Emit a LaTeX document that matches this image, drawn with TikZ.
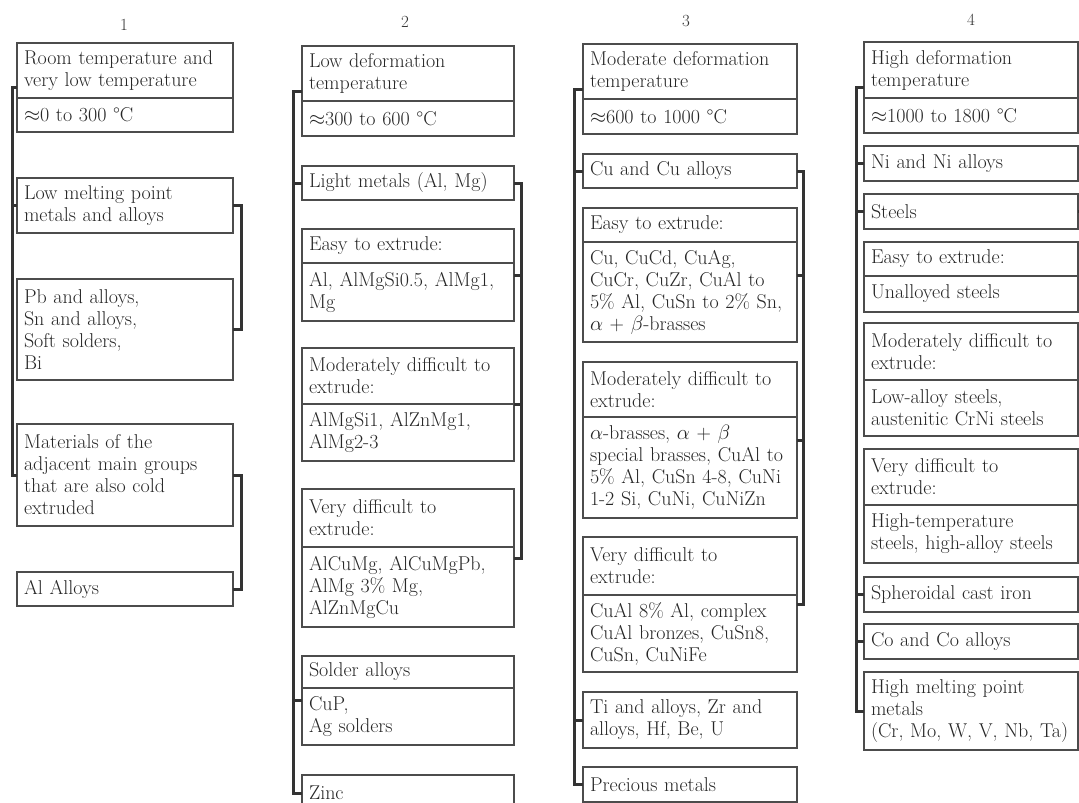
\documentclass[tikz,border=0pt]{standalone}
\usepackage{fontspec}
\usetikzlibrary{calc}
\tikzset{
  box/.style={draw=black!70, line width=1.3pt, anchor=north west, inner xsep=7pt, inner ysep=0pt,
    outer sep=0pt, align=left, font=\fontsize{20}{22}\selectfont\addfontfeature{FakeBold=1.5}, text=black!85},
  wa/.style={minimum width=216pt, text width=202pt},
  wb/.style={minimum width=212pt, text width=198pt},
  wc/.style={minimum width=214pt, text width=200pt},
  wd/.style={minimum width=214pt, text width=200pt},
  brk/.style={draw=black!80, line width=3pt, line join=miter},
  num/.style={font=\fontsize{17}{20}\selectfont, text=black!80}
}
\begin{document}
\begin{tikzpicture}[x=1pt,y=-1pt]
\clip (0,0) rectangle (1079,803);
\fill[white] (0,0) rectangle (1079,803);

% column numbers
\node[num] (t1) at (124,25) {1};
\node[num] (t2) at (405,22) {2};
\node[num] (t3) at (686,21) {3};
\node[num] (t4) at (971,20) {4};

% ---------- column 1 ----------
\node[box,wa,minimum height=55pt] (c1ha) at (17,43) {Room temperature and\\very low temperature};
\node[box,wa,minimum height=34pt] (c1hb) at (17,98) {$\approx$0 to 300 °C};
\node[box,wa,minimum height=55pt] (c1low) at (17,178) {Low melting point\\metals and alloys};
\node[box,wa,minimum height=101pt] (c1pb) at (17,279) {Pb and alloys,\\Sn and alloys,\\Soft solders,\\Bi};
\node[box,wa,minimum height=102pt] (c1mat) at (17,424) {Materials of the\\adjacent main groups\\that are also cold\\extruded};
\node[box,wa,minimum height=34pt] (c1al) at (17,572) {Al Alloys};

% ---------- column 2 ----------
\node[box,wb,minimum height=55pt] (c2ha) at (302,46) {Low deformation\\temperature};
\node[box,wb,minimum height=35pt] (c2hb) at (302,101) {$\approx$300 to 600 °C};
\node[box,wb,minimum height=34pt] (c2light) at (302,166) {Light metals (Al, Mg)};
\node[box,wb,minimum height=34pt] (c2ea) at (302,229) {Easy to extrude:};
\node[box,wb,minimum height=58pt] (c2eb) at (302,263) {Al, AlMgSi0.5, AlMg1,\\Mg};
\node[box,wb,minimum height=56pt] (c2ma) at (302,348) {Moderately difficult to\\extrude:};
\node[box,wb,minimum height=57pt] (c2mb) at (302,404) {AlMgSi1, AlZnMg1,\\AlMg2-3};
\node[box,wb,minimum height=58pt] (c2va) at (302,489) {Very difficult to\\extrude:};
\node[box,wb,minimum height=80pt] (c2vb) at (302,547) {AlCuMg, AlCuMgPb,\\AlMg 3\% Mg,\\AlZnMgCu};
\node[box,wb,minimum height=32pt] (c2sa) at (302,656) {Solder alloys};
\node[box,wb,minimum height=57pt] (c2sb) at (302,688) {CuP,\\Ag solders};
\node[box,wb,minimum height=36pt] (c2zn) at (302,775) {Zinc};

% ---------- column 3 ----------
\node[box,wc,minimum height=55pt] (c3ha) at (583,44) {Moderate deformation\\temperature};
\node[box,wc,minimum height=35pt] (c3hb) at (583,99) {$\approx$600 to 1000 °C};
\node[box,wc,minimum height=34pt] (c3cu) at (583,154) {Cu and Cu alloys};
\node[box,wc,minimum height=34pt] (c3ea) at (583,208) {Easy to extrude:};
\node[box,wc,minimum height=100pt] (c3eb) at (583,242) {Cu, CuCd, CuAg,\\CuCr, CuZr, CuAl to\\5\% Al, CuSn to 2\% Sn,\\$\alpha$ + $\beta$-brasses};
\node[box,wc,minimum height=55pt] (c3ma) at (583,362) {Moderately difficult to\\extrude:};
\node[box,wc,minimum height=101pt] (c3mb) at (583,417) {$\alpha$-brasses, $\alpha$ + $\beta$\\special brasses, CuAl to\\5\% Al, CuSn 4-8, CuNi\\1-2 Si, CuNi, CuNiZn};
\node[box,wc,minimum height=58pt] (c3va) at (583,537) {Very difficult to\\extrude:};
\node[box,wc,minimum height=77pt] (c3vb) at (583,595) {CuAl 8\% Al, complex\\CuAl bronzes, CuSn8,\\CuSn, CuNiFe};
\node[box,wc,minimum height=56pt] (c3ti) at (583,692) {Ti and alloys, Zr and\\alloys, Hf, Be, U};
\node[box,wc,minimum height=35pt] (c3pr) at (583,767) {Precious metals};

% ---------- column 4 ----------
\node[box,wd,minimum height=56pt] (c4ha) at (864,42) {High deformation\\temperature};
\node[box,wd,minimum height=35pt] (c4hb) at (864,98) {$\approx$1000 to 1800 °C};
\node[box,wd,minimum height=35pt] (c4ni) at (864,146) {Ni and Ni alloys};
\node[box,wd,minimum height=35pt] (c4st) at (864,194) {Steels};
\node[box,wd,minimum height=34pt] (c4ea) at (864,242) {Easy to extrude:};
\node[box,wd,minimum height=36pt] (c4eb) at (864,276) {Unalloyed steels};
\node[box,wd,minimum height=57pt] (c4ma) at (864,323) {Moderately difficult to\\extrude:};
\node[box,wd,minimum height=56pt] (c4mb) at (864,380) {Low-alloy steels,\\austenitic CrNi steels};
\node[box,wd,minimum height=56pt] (c4va) at (864,449) {Very difficult to\\extrude:};
\node[box,wd,minimum height=58pt] (c4vb) at (864,505) {High-temperature\\steels, high-alloy steels};
\node[box,wd,minimum height=35pt] (c4sph) at (864,577) {Spheroidal cast iron};
\node[box,wd,minimum height=35pt] (c4co) at (864,624) {Co and Co alloys};
\node[box,wd,minimum height=78pt] (c4hm) at (864,672) {High melting point\\metals\\(Cr, Mo, W, V, Nb, Ta)};

% mid points of two-part boxes
\coordinate (c1hm) at ($(c1ha.north west)!0.5!(c1hb.south west)$);
\coordinate (c2hm) at ($(c2ha.north west)!0.5!(c2hb.south west)$);
\coordinate (c2em) at ($(c2ea.north east)!0.5!(c2eb.south east)$);
\coordinate (c2mm) at ($(c2ma.north east)!0.5!(c2mb.south east)$);
\coordinate (c2vm) at ($(c2va.north east)!0.5!(c2vb.south east)$);
\coordinate (c2sm) at ($(c2sa.north west)!0.5!(c2sb.south west)$);
\coordinate (c3hm) at ($(c3ha.north west)!0.5!(c3hb.south west)$);
\coordinate (c3em) at ($(c3ea.north east)!0.5!(c3eb.south east)$);
\coordinate (c3mm) at ($(c3ma.north east)!0.5!(c3mb.south east)$);
\coordinate (c3vm) at ($(c3va.north east)!0.5!(c3vb.south east)$);
\coordinate (c4hm0) at ($(c4ha.north west)!0.5!(c4hb.south west)$);

% spine x positions
\coordinate (s1) at (12,0);
\coordinate (r1) at (241,0);
\coordinate (s2) at (293,0);
\coordinate (r2) at (521,0);
\coordinate (s3) at (574,0);
\coordinate (r3) at (803,0);
\coordinate (s4) at (856,0);

% ---------- brackets column 1 ----------
\draw[brk] (c1hm) -- (c1hm -| s1) |- (c1low.west);
\draw[brk] (c1hm -| s1) |- (c1mat.west);
\draw[brk] (c1low.east) -- (c1low.east -| r1) |- (c1pb.east);
\draw[brk] (c1mat.east) -- (c1mat.east -| r1) |- (c1al.east);

% ---------- brackets column 2 ----------
\draw[brk] (c2hm) -- (c2hm -| s2) |- (c2light.west);
\draw[brk] (c2hm -| s2) |- (c2sm);
\draw[brk] (c2hm -| s2) |- (c2zn.west);
\draw[brk] (c2light.east) -- (c2light.east -| r2) |- (c2em);
\draw[brk] (c2light.east -| r2) |- (c2mm);
\draw[brk] (c2light.east -| r2) |- (c2vm);

% ---------- brackets column 3 ----------
\draw[brk] (c3hm) -- (c3hm -| s3) |- (c3cu.west);
\draw[brk] (c3hm -| s3) |- (c3ti.west);
\draw[brk] (c3hm -| s3) |- (c3pr.west);
\draw[brk] (c3cu.east) -- (c3cu.east -| r3) |- (c3em);
\draw[brk] (c3cu.east -| r3) |- (c3mm);
\draw[brk] (c3cu.east -| r3) |- (c3vm);

% ---------- brackets column 4 ----------
\draw[brk] (c4hm0) -- (c4hm0 -| s4) |- (c4ni.west);
\draw[brk] (c4hm0 -| s4) |- (c4st.west);
\draw[brk] (c4hm0 -| s4) |- (c4sph.west);
\draw[brk] (c4hm0 -| s4) |- (c4co.west);
\draw[brk] (c4hm0 -| s4) |- (c4hm.west);
\draw[brk] (c4st.east) -- ++(6,0);
\end{tikzpicture}
\end{document}
